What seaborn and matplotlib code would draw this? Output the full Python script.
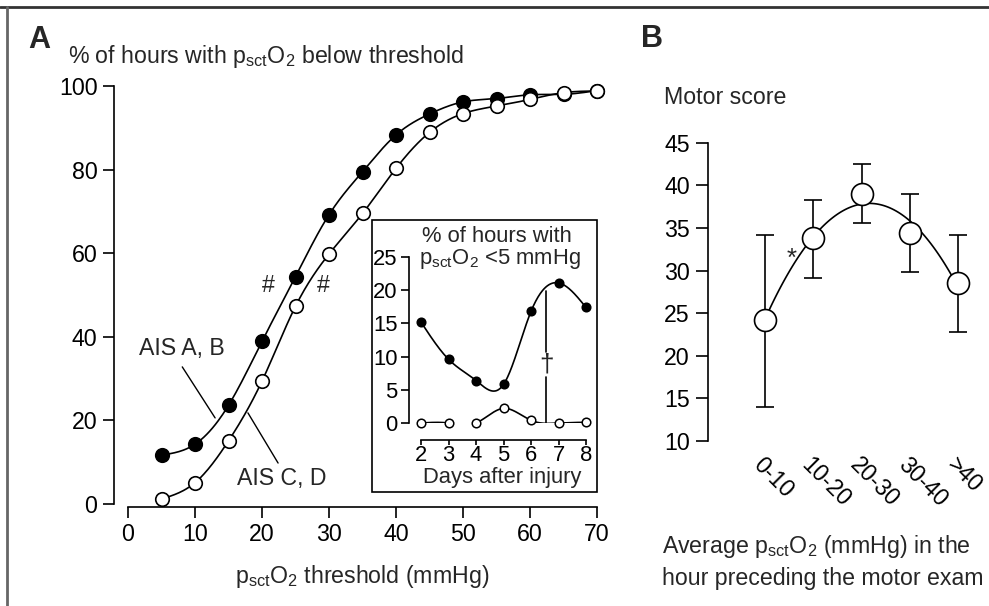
import numpy as np
import matplotlib
matplotlib.use('Agg')
import matplotlib.pyplot as plt
import seaborn as sns
from matplotlib.lines import Line2D
from matplotlib.patches import Rectangle

# Panel A: % of hours with psctO2 below threshold
thresholds = [5, 10, 15, 20, 25, 30, 35, 40, 45, 50, 55, 60, 65, 70]
pct_ais_ab = [11.7, 14.3, 23.6, 38.9, 54.4, 69.2, 79.5, 88.3, 93.3, 96.2, 97.0, 97.9, 98.0, 98.9]
pct_ais_cd = [1.2, 5.1, 15.1, 29.4, 47.3, 59.8, 69.5, 80.3, 88.9, 93.4, 95.2, 96.8, 98.4, 98.8]

# Inset: % of hours with psctO2 < 5 mmHg by day
days = [2, 3, 4, 5, 6, 7, 8]
inset_ab = [15.2, 9.6, 6.4, 5.8, 16.8, 21.1, 17.4]
inset_cd = [0.0, 0.0, 0.0, 2.2, 0.4, 0.0, 0.1]
dagger_day = 6.55

# Panel B: motor score by average psctO2
bins = ['0-10', '10-20', '20-30', '30-40', '>40']
motor_mean = [24.2, 33.8, 39.0, 34.4, 28.5]
motor_low = [14.0, 29.1, 35.6, 29.8, 22.8]
motor_high = [34.2, 38.3, 42.5, 39.0, 34.2]

W, H = 989, 606
FS = 16.7
FS_IN = 15.8
PSCT = r'p$_\mathregular{sct}$O$_\mathregular{2}$'


def natural_spline(x, y, n=300):
    """smooth curve through the points (natural cubic spline)"""
    x = np.asarray(x, float)
    y = np.asarray(y, float)
    k = len(x)
    h = np.diff(x)
    A = np.zeros((k, k))
    r = np.zeros(k)
    A[0, 0] = A[-1, -1] = 1
    for i in range(1, k - 1):
        A[i, i - 1] = h[i - 1]
        A[i, i] = 2 * (h[i - 1] + h[i])
        A[i, i + 1] = h[i]
        r[i] = 3 * ((y[i + 1] - y[i]) / h[i] - (y[i] - y[i - 1]) / h[i - 1])
    c = np.linalg.solve(A, r)
    xs = np.linspace(x[0], x[-1], n)
    idx = np.clip(np.searchsorted(x, xs, side='right') - 1, 0, k - 2)
    dx = xs - x[idx]
    b = (y[1:] - y[:-1]) / h - h * (2 * c[:-1] + c[1:]) / 3
    d = (c[1:] - c[:-1]) / (3 * h)
    ys = y[idx] + b[idx] * dx + c[idx] * dx ** 2 + d[idx] * dx ** 3
    return xs, ys


def px_axes(left, top, right, bottom):
    return [left / W, 1 - bottom / H, (right - left) / W, (bottom - top) / H]


sns.set_style('ticks')
plt.rcParams['font.family'] = ['Liberation Sans', 'DejaVu Sans']
plt.rcParams['mathtext.fontset'] = 'custom'
plt.rcParams['mathtext.rm'] = 'Liberation Sans'
plt.rcParams['axes.linewidth'] = 1.2
plt.rcParams['axes.edgecolor'] = 'black'
plt.rcParams['xtick.color'] = 'black'
plt.rcParams['ytick.color'] = 'black'

fig = plt.figure(figsize=(W / 100, H / 100), dpi=100)

# frame lines (top and left)
fig.add_artist(Line2D([0, 1], [1 - 6.5 / H] * 2, transform=fig.transFigure, color='#333333', lw=2))
fig.add_artist(Line2D([6.5 / W] * 2, [0, 1 - 6.5 / H], transform=fig.transFigure, color='#666666', lw=2))

# ---------------- Panel A ----------------
ax = fig.add_axes(px_axes(128, 86, 597, 504))
for vals, face in [(pct_ais_ab, 'black'), (pct_ais_cd, 'white')]:
    xs, ys = natural_spline(thresholds, vals)
    sns.lineplot(x=xs, y=ys, ax=ax, color='black', lw=1.2, sort=False)
    sns.scatterplot(x=thresholds, y=vals, ax=ax, s=95, color=face, edgecolor='black',
                    linewidth=1.2, zorder=3, clip_on=False)
ax.set_xlim(0, 70)
ax.set_ylim(0, 100)
ax.set_xticks(range(0, 71, 10))
ax.set_yticks(range(0, 101, 20))
sns.despine(ax=ax)
ax.spines['left'].set_position(('outward', 10))
ax.spines['bottom'].set_position(('outward', 2))
ax.tick_params(labelsize=FS, length=8, width=1.2, pad=4)
ax.set_xlabel('')
ax.set_ylabel('')

ax.text(8.0, 37.3, 'AIS A, B', fontsize=FS, ha='center', va='center')
ax.plot([8.1, 13.0], [32.8, 20.6], color='black', lw=1)
ax.text(23.0, 6.0, 'AIS C, D', fontsize=FS, ha='center', va='center')
ax.plot([17.9, 22.4], [21.8, 9.8], color='black', lw=1)
ax.text(20.9, 52.2, '#', fontsize=FS, ha='center', va='center')
ax.text(29.1, 52.2, '#', fontsize=FS, ha='center', va='center')

fig.text(28 / W, 1 - 40 / H, 'A', fontsize=22, fontweight='bold', va='center')
fig.text(68 / W, 1 - 56 / H, '% of hours with ' + PSCT + ' below threshold', fontsize=FS, va='center')
fig.text(362 / W, 1 - 577 / H, PSCT + ' threshold (mmHg)', fontsize=FS, ha='center', va='center')

# ---------------- Inset ----------------
fig.add_artist(Rectangle((372 / W, 1 - 492 / H), 225 / W, 272 / H, transform=fig.transFigure,
                         fill=True, facecolor='white', edgecolor='black', lw=1.2, zorder=2))
axi = fig.add_axes(px_axes(421, 257, 586, 423))
axi.set_zorder(3)
axi.patch.set_alpha(0)
for vals, face in [(inset_ab, 'black'), (inset_cd, 'white')]:
    xs, ys = natural_spline(days, vals)
    sns.lineplot(x=xs, y=ys, ax=axi, color='black', lw=1.2, sort=False)
    sns.scatterplot(x=days, y=vals, ax=axi, s=38, color=face, edgecolor='black',
                    linewidth=1.1, zorder=3, clip_on=False)
axi.plot([dagger_day, dagger_day], [0, 7.0], color='black', lw=1.2)
axi.plot([dagger_day, dagger_day], [10.7, 19.9], color='black', lw=1.2)
axi.text(dagger_day, 8.8, '\u2020', fontsize=FS + 2, ha='center', va='center')
axi.set_xlim(2, 8)
axi.set_ylim(0, 25)
axi.set_xticks(days)
axi.set_yticks(range(0, 26, 5))
sns.despine(ax=axi)
axi.spines['left'].set_position(('outward', 9))
axi.spines['bottom'].set_position(('outward', 12))
axi.tick_params(axis='y', labelsize=FS_IN, length=6, width=1.2, pad=2)
axi.tick_params(axis='x', labelsize=FS_IN, length=3.6, width=1.2, pad=0)
axi.set_xlabel('')
axi.set_ylabel('')
fig.text(497 / W, 1 - 236 / H, '% of hours with', fontsize=FS_IN, ha='center', va='center', zorder=4)
fig.text(500 / W, 1 - 259 / H, PSCT + ' <5 mmHg', fontsize=FS_IN, ha='center', va='center', zorder=4)
fig.text(502 / W, 1 - 477 / H, 'Days after injury', fontsize=FS_IN, ha='center', va='center', zorder=4)

# ---------------- Panel B ----------------
axb = fig.add_axes(px_axes(708, 142.7, 968, 441))
pos = np.arange(len(bins))
sns.regplot(x=pos, y=np.array(motor_mean), order=2, ci=None, scatter=False, ax=axb,
            line_kws=dict(color='black', lw=1.2))
yerr = [np.array(motor_mean) - np.array(motor_low), np.array(motor_high) - np.array(motor_mean)]
axb.errorbar(pos, motor_mean, yerr=yerr, fmt='none', ecolor='black', elinewidth=1.2,
             capsize=6.5, capthick=1.2, zorder=2)
sns.scatterplot(x=pos, y=motor_mean, ax=axb, s=250, color='white', edgecolor='black',
                linewidth=1.2, zorder=4, clip_on=False)
axb.set_xlim(-1.18, 4.2)
axb.set_ylim(10, 45)
axb.set_yticks(range(10, 46, 5))
axb.set_xticks(pos)
axb.set_xticklabels(bins, rotation=-45, ha='left', va='top', rotation_mode='anchor')
sns.despine(ax=axb, bottom=True)
axb.tick_params(axis='y', labelsize=FS, length=9, width=1.2, pad=4)
axb.tick_params(axis='x', labelsize=FS, length=0, pad=9)
axb.set_xlabel('')
axb.set_ylabel('')
axb.text(0.55, 31.4, '*', fontsize=FS + 2, ha='center', va='center')

fig.text(641 / W, 1 - 39 / H, 'B', fontsize=22, fontweight='bold', va='center')
fig.text(664 / W, 1 - 98 / H, 'Motor score', fontsize=FS, va='center')
fig.text(662 / W, 1 - 547 / H, 'Average ' + PSCT + ' (mmHg) in the', fontsize=FS, va='center')
fig.text(662 / W, 1 - 578 / H, 'hour preceding the motor exam', fontsize=FS, va='center')

fig.savefig('out.png', dpi=100)
